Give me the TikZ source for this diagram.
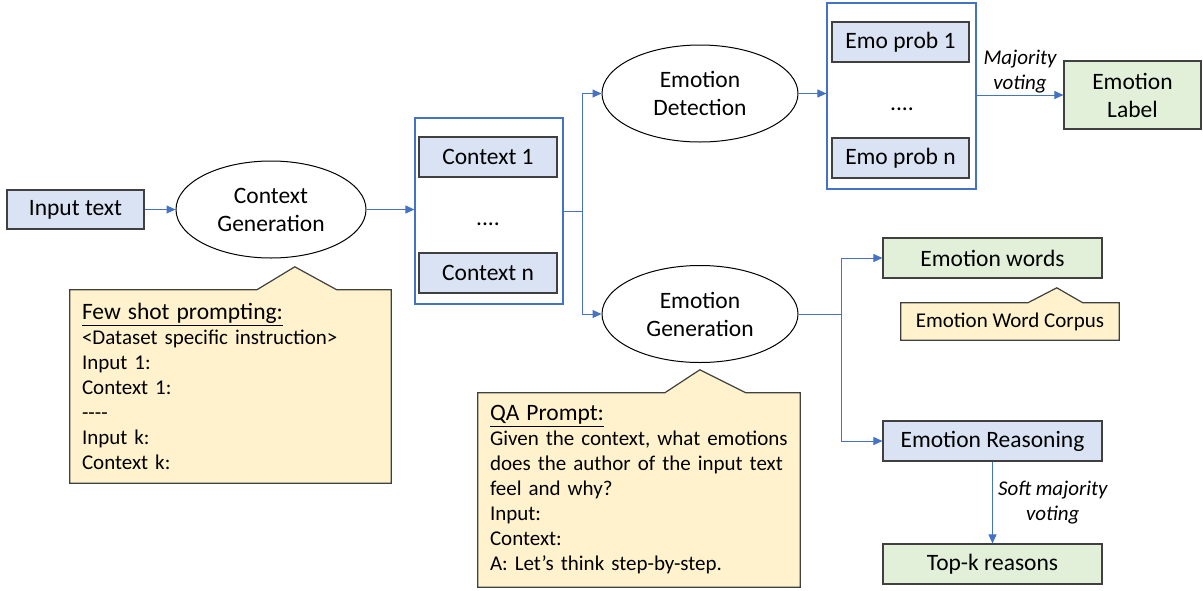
\documentclass[tikz,border=0pt]{standalone}
\usepackage{fontspec}
\setmainfont{Carlito}
\usepackage{xcolor}
\usepackage{tikz}
\usetikzlibrary{positioning,shapes,calc,arrows.meta}

\definecolor{boxblue}{HTML}{DAE3F3}
\definecolor{boxgreen}{HTML}{E2F0D9}
\definecolor{notefill}{HTML}{FFF2CC}
\definecolor{lineblue}{HTML}{4472C4}
\definecolor{edgegray}{HTML}{404040}

\pgfdeclarelayer{background}
\pgfsetlayers{background,main}

\newcommand{\mainsize}{\fontsize{23.5}{28}\selectfont}
\newcommand{\notesize}{\fontsize{21}{25}\selectfont}

\begin{document}
\begin{tikzpicture}[x=1pt, y=-1pt,
        box/.style={rectangle, draw=edgegray, line width=1.2pt, fill=boxblue, minimum height=40pt, inner sep=0pt, font=\mainsize, align=center},
        res/.style={box, fill=boxgreen},
        task/.style={ellipse, draw, line width=1pt, inner sep=0pt, minimum width=196pt, minimum height=97pt, font=\mainsize, align=center},
        group/.style={rectangle, draw=lineblue, line width=1.2pt},
        note/.style={rectangle, inner xsep=12pt, inner ysep=0pt, font=\notesize, align=left},
        notebg/.style={draw=edgegray, line width=1.2pt, fill=notefill},
        flow/.style={draw=lineblue, line width=1pt, -{Triangle[length=9pt, width=8pt]}},
        vote/.style={font=\notesize\itshape, align=center, inner sep=0pt}
    ]
    \useasboundingbox (0,0) rectangle (1203,590);

    \node[box, minimum width=137pt, minimum height=39pt] (input) at (75.5,209.5) {Input text};
    \node[task, minimum width=190pt] (cgen) at (271,209.5) {Context\\Generation};

    \node[group, minimum width=148pt, minimum height=186pt] (ctxbox) at (489,211) {};
    \node[box, minimum width=138pt] (ctx1) at (488,157) {Context 1};
    \node[box, minimum width=138pt] (ctxn) at (488,273) {Context n};
    \node[font=\mainsize, anchor=base] (ctxdots) at (488,225) {....};

    \node[task] (edet) at (700,93.5) {Emotion\\Detection};
    \node[task] (egen) at (700,314) {Emotion\\Generation};

    \node[group, minimum width=149pt, minimum height=186pt] (emobox) at (901.5,96) {};
    \node[box, minimum width=137pt] (emo1) at (900.5,42) {Emo prob 1};
    \node[box, minimum width=137pt] (emon) at (900.5,158) {Emo prob n};
    \node[font=\mainsize, anchor=base] (emodots) at (902,110) {....};

    \node[res, minimum width=137pt, minimum height=68pt] (elabel) at (1132.5,95) {Emotion\\Label};
    \node[res, minimum width=219pt] (ewords) at (992.5,258) {Emotion words};
    \node[box, minimum width=219pt] (ereason) at (992.5,441) {Emotion Reasoning};
    \node[res, minimum width=219pt] (topk) at (992.5,564) {Top-k reasons};

    \node[note, minimum width=321pt, minimum height=193pt, text width=297pt] (fewshot) at (230.5,386.5) {%
        {\fontsize{23.5}{25}\selectfont\underline{Few shot prompting:}}\\
        <Dataset specific instruction>\\
        Input 1:\\
        Context 1:\\
        -{}-{}-{}-\\
        Input k:\\
        Context k:};
    \node[note, minimum width=322pt, minimum height=194pt, text width=298pt] (qa) at (639,490) {%
        {\fontsize{23.5}{25}\selectfont\underline{QA Prompt:}}\\
        Given the context, what emotions\\
        does the author of the input text\\
        feel and why?\\
        Input:\\
        Context:\\
        A: Let’s think step-by-step.};
    \node[note, minimum width=218pt, minimum height=37pt, inner xsep=0pt, align=center] (corpus) at (1010,321.5) {Emotion Word Corpus};

    \begin{pgfonlayer}{background}
        \draw[notebg] (fewshot.south west) -- (fewshot.north west) -- ++(187,0) -- ++(38,-23) -- ++(42,23) -- (fewshot.north east) -- (fewshot.south east) -- cycle;
        \draw[notebg] (qa.south west) -- (qa.north west) -- ++(187,0) -- ++(35,-23) -- ++(46,23) -- (qa.north east) -- (qa.south east) -- cycle;
        \draw[notebg] (corpus.south west) -- (corpus.north west) -- ++(127,0) -- ++(29,-15) -- ++(26,15) -- (corpus.north east) -- (corpus.south east) -- cycle;
    \end{pgfonlayer}

    \draw[flow] (input) -- (cgen);
    \draw[flow] (cgen.east) -- (cgen.east -| ctxbox.west);
    \draw[flow] (ctxbox.east) -- ++(19,0) |- (edet.west);
    \draw[flow] (ctxbox.east) -- ++(19,0) |- (egen.west);
    \draw[flow] (edet.east) -- (edet.east -| emobox.west);
    \draw[flow] (emobox.east |- elabel.west) -- node[vote, above=1pt] (mvote) {Majority\\voting} (elabel.west);
    \draw[flow] (egen.east) -- ++(43,0) |- (ewords.west);
    \draw[flow] (egen.east) -- ++(43,0) |- (ereason.west);
    \draw[flow] (ereason) -- node[vote, right=5pt] (svote) {Soft majority\\voting} (topk);
\end{tikzpicture}
\end{document}
